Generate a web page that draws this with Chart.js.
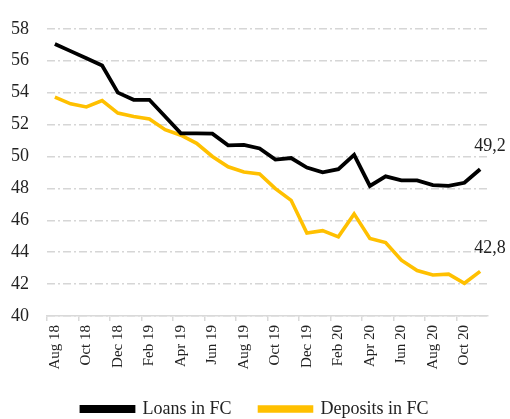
<!DOCTYPE html>
<html>
<head>
<meta charset="utf-8">
<script src="https://cdn.jsdelivr.net/npm/chart.js@4/dist/chart.umd.min.js"></script>
<style>
  html, body { margin: 0; padding: 0; background: #ffffff; }
  #wrap { width: 510px; height: 419px; }
</style>
</head>
<body>
<div id="wrap"><canvas id="c" width="510" height="419"></canvas></div>
<script>
const months = ["Aug 18","Sep 18","Oct 18","Nov 18","Dec 18","Jan 19","Feb 19","Mar 19","Apr 19","May 19","Jun 19","Jul 19",
  "Aug 19","Sep 19","Oct 19","Nov 19","Dec 19","Jan 20","Feb 20","Mar 20","Apr 20","May 20","Jun 20","Jul 20",
  "Aug 20","Sep 20","Oct 20","Nov 20"];
const loansFC = [57.05,56.6,56.15,55.7,54.0,53.55,53.55,52.5,51.45,51.45,51.43,50.7,50.72,50.5,49.8,49.9,49.3,49.0,49.2,50.1,
  48.15,48.75,48.5,48.5,48.2,48.15,48.35,49.2];
const depositsFC = [53.72,53.3,53.1,53.5,52.72,52.5,52.35,51.68,51.33,50.82,50.0,49.35,49.02,48.9,47.98,47.25,45.2,45.35,44.96,
  46.4,44.86,44.6,43.5,42.85,42.57,42.62,42.05,42.8];
const yTicks = [40,42,44,46,48,50,52,54,56,58];
const seriesNames = ["Loans in FC","Deposits in FC"];
const seriesColors = ["#000000","#FFC000"];

const serif = "'Liberation Serif', 'Times New Roman', serif";

const endLabels = {
  id: 'endLabels',
  afterDatasetsDraw(chart) {
    const ctx = chart.ctx;
    ctx.save();
    ctx.font = "18px " + serif;
    ctx.fillStyle = "#222";
    ctx.textAlign = "left";
    ctx.textBaseline = "middle";
    chart.data.datasets.forEach((ds, di) => {
      const meta = chart.getDatasetMeta(di);
      const last = meta.data[meta.data.length - 1];
      const v = ds.data[ds.data.length - 1];
      ctx.fillText(v.toFixed(1).replace('.', ','), last.x - 6, last.y - 23);
    });
    ctx.restore();
  }
};

new Chart(document.getElementById('c'), {
  type: 'line',
  data: {
    labels: months,
    datasets: [
      { label: seriesNames[0], data: loansFC, borderColor: seriesColors[0], backgroundColor: seriesColors[0],
        borderWidth: 3.8, pointRadius: 0, tension: 0 },
      { label: seriesNames[1], data: depositsFC, borderColor: seriesColors[1], backgroundColor: seriesColors[1],
        borderWidth: 3.6, pointRadius: 0, tension: 0 }
    ]
  },
  options: {
    responsive: false,
    animation: false,
    devicePixelRatio: 1,
    layout: { padding: { left: 0, right: 0, top: 21, bottom: -9 } },
    plugins: {
      legend: {
        position: 'bottom',
        labels: {
          font: { family: serif, size: 18 },
          color: "#222",
          boxWidth: 52,
          boxHeight: 4,
          padding: 28
        }
      },
      tooltip: { enabled: false }
    },
    scales: {
      x: {
        offset: true,
        grid: {
          offset: true,
          drawOnChartArea: false,
          drawTicks: true,
          tickLength: 5,
          lineWidth: 1.5,
          color: (c) => (c.index % 2 === 0 ? '#d9d9d9' : 'rgba(0,0,0,0)')
        },
        border: { display: true, color: '#d9d9d9', width: 1.5 },
        ticks: {
          autoSkip: false,
          minRotation: 90,
          maxRotation: 90,
          padding: 4,
          color: "#222",
          font: { family: serif, size: 15 },
          callback: function(val, idx) { return idx % 2 === 0 ? this.getLabelForValue(val) : ''; }
        },
        afterFit: (s) => { s.height = 56; }
      },
      y: {
        min: yTicks[0],
        max: yTicks[yTicks.length - 1],
        afterBuildTicks: (s) => { s.ticks = yTicks.map(v => ({ value: v })); },
        grid: {
          display: true,
          drawOnChartArea: true,
          drawTicks: false,
          lineWidth: 1.5,
          color: '#d6d6d6'
        },
        border: { display: false, dash: [8, 3, 2, 3] },
        ticks: {
          padding: 18,
          color: "#222",
          font: { family: serif, size: 18 }
        },
        afterFit: (s) => { s.width = 47; }
      },
      yPad: {
        position: 'right',
        display: true,
        min: yTicks[0],
        max: yTicks[yTicks.length - 1],
        grid: { display: false, drawOnChartArea: false, drawTicks: false },
        border: { display: false },
        ticks: { display: false },
        afterFit: (s) => { s.width = 22; }
      }
    }
  },
  plugins: [endLabels]
});
</script>
</body>
</html>
